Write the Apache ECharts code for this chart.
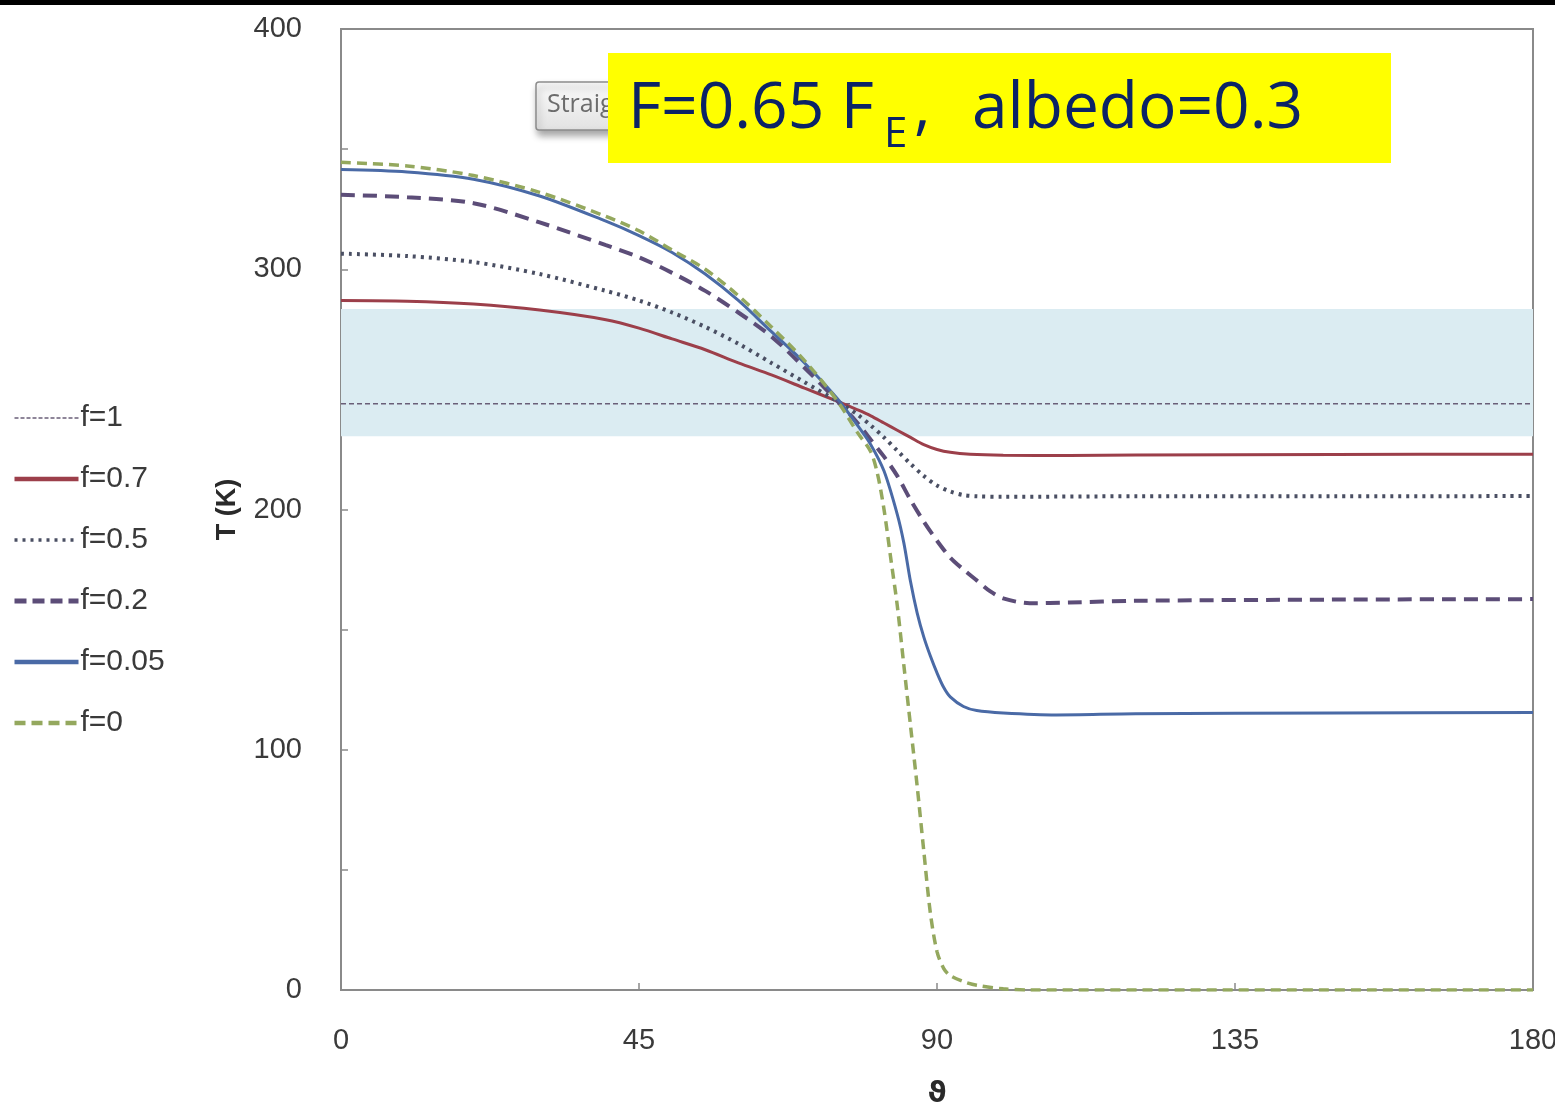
<!DOCTYPE html>
<html>
<head>
<meta charset="utf-8">
<script src="https://cdn.jsdelivr.net/npm/echarts@6/dist/echarts.min.js"></script>
<style>
html,body{margin:0;padding:0;background:#fff;}
#chart{width:1555px;height:1105px;}
</style>
</head>
<body>
<div id="chart"></div>
<script>
// ---- data (theta in degrees, T in K) ----
const seriesNames = ['f=1', 'f=0.7', 'f=0.5', 'f=0.2', 'f=0.05', 'f=0'];
const xTicks = [0, 45, 90, 135, 180];
const yTicks = [0, 100, 200, 300, 400];
const habitableBand = [230.5, 283.5];

const f1 = [[0, 244], [180, 244]];
const f07 = [[0,287],[10,286.7],[20,285.5],[30,283],[40,279],[45,275.5],[50,271],[55,266.5],[60,261],[65,256],[70,250.5],[75,245],[78,241.5],[80,239],[82,236],[84,233],[86,230],[88,227],[90,225],[92,223.8],[95,223],[100,222.6],[110,222.5],[120,222.7],[150,222.9],[180,223]];
const f05 = [[0,306.5],[10,305.5],[20,303],[30,298],[40,291],[45,287],[50,282],[55,276],[60,269],[65,261],[70,253],[75,245],[78,239.5],[80,235],[82,230],[84,224.5],[86,219],[88,214],[90,210],[92,207.5],[94,206],[96,205.5],[100,205.3],[120,205.5],[150,205.5],[180,205.6]];
const f02 = [[0,331],[10,330],[20,327.5],[30,319.5],[40,310],[45,305],[50,298.5],[55,291],[60,282],[65,272],[70,259],[75,245],[78,236],[80,229],[82,222],[84,214],[86,204],[88,195],[90,187],[92,180],[94,175],[96,170.5],[98,166],[100,163],[104,161],[110,161.3],[120,162],[150,162.5],[180,162.7]];
const f005 = [[0,341.5],[10,340.5],[20,337.5],[30,330.5],[40,320],[45,314],[50,307],[55,298],[60,287],[65,274],[70,261],[75,246],[78,235],[80,227],[82,216],[84,198],[85,186],[86,170],[87,157],[88,147],[89,139],[90,132],[91,126],[92,122],[94,118],[96,116.3],[100,115.3],[108,114.5],[120,115],[150,115.3],[180,115.5]];
const f0 = [[0,344.5],[10,343],[20,339],[30,332],[40,322],[45,316],[50,308],[55,300],[60,289],[65,276],[70,262],[75,245],[78,232],[80,224],[81,215],[82,200],[83,180],[84,160],[85,135],[86,110],[87,85],[88,58],[89,32],[90,16],[91,9],[92,6],[94,3.5],[96,2],[100,0.5],[104,0],[180,0]];

const FONT = '"Liberation Sans", Arial, sans-serif';
const COLORS = ['#6a5f78', '#9c3f4a', '#4a4f63', '#5c4d78', '#4a6aa6', '#94a85e'];

const chart = echarts.init(document.getElementById('chart'), null, {renderer: 'canvas'});

function lineSeries(name, data, color, width, type, extra) {
  return Object.assign({
    name: name, type: 'line', data: data, symbol: 'none', showSymbol: false,
    smooth: 0.3,
    lineStyle: {color: color, width: width, type: type},
    itemStyle: {color: color},
    emphasis: {disabled: true}, animation: false
  }, extra || {});
}

const legendStyles = [
  {width: 1.6, type: [4, 2]},
  {width: 4.5, type: 'solid'},
  {width: 3.5, type: [3, 5]},
  {width: 5, type: [12, 6]},
  {width: 4.5, type: 'solid'},
  {width: 4.5, type: [11, 6]}
];

const option = {
  backgroundColor: '#ffffff',
  animation: false,
  grid: {left: 341, right: 22, top: 29, bottom: 115, show: true, borderColor: '#8a8a8a', borderWidth: 2, outerBoundsMode: 'none'},
  legend: {
    orient: 'vertical', left: 7, top: 398, itemWidth: 64, itemHeight: 20, itemGap: 31,
    data: seriesNames.map((n, i) => ({name: n, lineStyle: Object.assign({color: COLORS[i]}, legendStyles[i])})),
    itemStyle: {opacity: 0},
    textStyle: {fontFamily: FONT, fontSize: 30, color: '#3a3a3a', lineHeight: 30, padding: [0,0,0,-3]},
    selectedMode: false
  },
  xAxis: {
    type: 'value', min: 0, max: 180, interval: 45,
    name: 'ϑ', nameLocation: 'middle', nameGap: 90,
    nameTextStyle: {fontFamily: '"DejaVu Sans", sans-serif', fontWeight: 'bold', fontSize: 29, color: '#2a2a2a'},
    axisLine: {show: true, lineStyle: {color: '#8a8a8a', width: 2}},
    axisTick: {show: true, inside: true, length: 7, lineStyle: {color: '#8a8a8a', width: 1.5}},
    axisLabel: {fontFamily: FONT, fontSize: 29, color: '#3a3a3a', margin: 36, formatter: v => xTicks.includes(v) ? String(v) : ''},
    splitLine: {show: false}
  },
  yAxis: {
    type: 'value', min: 0, max: 400, interval: 50,
    name: 'T (K)', nameLocation: 'middle', nameGap: 100, nameRotate: 90,
    nameTextStyle: {fontFamily: FONT, fontWeight: 'bold', fontSize: 27, color: '#2a2a2a'},
    axisLine: {show: true, lineStyle: {color: '#8a8a8a', width: 2}},
    axisTick: {show: true, inside: true, length: 7, lineStyle: {color: '#8a8a8a', width: 1.5}},
    axisLabel: {fontFamily: FONT, fontSize: 29, color: '#3a3a3a', margin: 39, formatter: v => yTicks.includes(v) ? String(v) : ''},
    splitLine: {show: false}
  },
  series: [
    lineSeries(seriesNames[0], f1, COLORS[0], 1.6, [5, 3], {
      smooth: false, z: 3,
      markArea: {silent: true, itemStyle: {color: '#dbecf2'}, data: [[{yAxis: habitableBand[0]}, {yAxis: habitableBand[1]}]]}
    }),
    lineSeries(seriesNames[1], f07, COLORS[1], 3, 'solid'),
    lineSeries(seriesNames[2], f05, COLORS[2], 4, [3, 5]),
    lineSeries(seriesNames[3], f02, COLORS[3], 4, [14, 8]),
    lineSeries(seriesNames[4], f005, COLORS[4], 3, 'solid'),
    lineSeries(seriesNames[5], f0, COLORS[5], 3.5, [10, 6])
  ],
  graphic: [
    {type: 'rect', z: 100, shape: {x: 0, y: 0, width: 1555, height: 5}, style: {fill: '#000'}},
    {type: 'rect', z: 100, shape: {x: 536, y: 82, width: 110, height: 48, r: 3},
      style: {fill: new echarts.graphic.LinearGradient(0,0,0,1,[{offset:0,color:'#fbfbfb'},{offset:1,color:'#e2e2e2'}]),
        stroke: '#8c8c8c', lineWidth: 1.5, shadowBlur: 7, shadowOffsetX: 2, shadowOffsetY: 5, shadowColor: 'rgba(0,0,0,0.35)'}},
    {type: 'text', z: 101, style: {text: 'Straig', x: 547, y: 105, font: '25px "Open Sans", sans-serif', fill: '#6c6c6c', verticalAlign: 'middle', align: 'left'}},
    {type: 'rect', z: 102, shape: {x: 608, y: 53, width: 783, height: 110}, style: {fill: '#ffff00'}},
    {type: 'text', z: 103, style: {text: 'F=0.65 F', x: 628, y: 110, font: '64px "Open Sans", sans-serif', fill: '#0b2366', verticalAlign: 'middle', align: 'left'}},
    {type: 'text', z: 103, style: {text: 'E', x: 884, y: 135, font: '42px "Open Sans", sans-serif', fill: '#0b2366', verticalAlign: 'middle', align: 'left'}},
    {type: 'text', z: 103, style: {text: ',', x: 914, y: 110, font: '64px "Open Sans", sans-serif', fill: '#0b2366', verticalAlign: 'middle', align: 'left'}},
    {type: 'text', z: 103, style: {text: 'albedo=0.3', x: 972, y: 110, font: '64px "Open Sans", sans-serif', fill: '#0b2366', verticalAlign: 'middle', align: 'left'}}
  ]
};
chart.setOption(option);
</script>
</body>
</html>
